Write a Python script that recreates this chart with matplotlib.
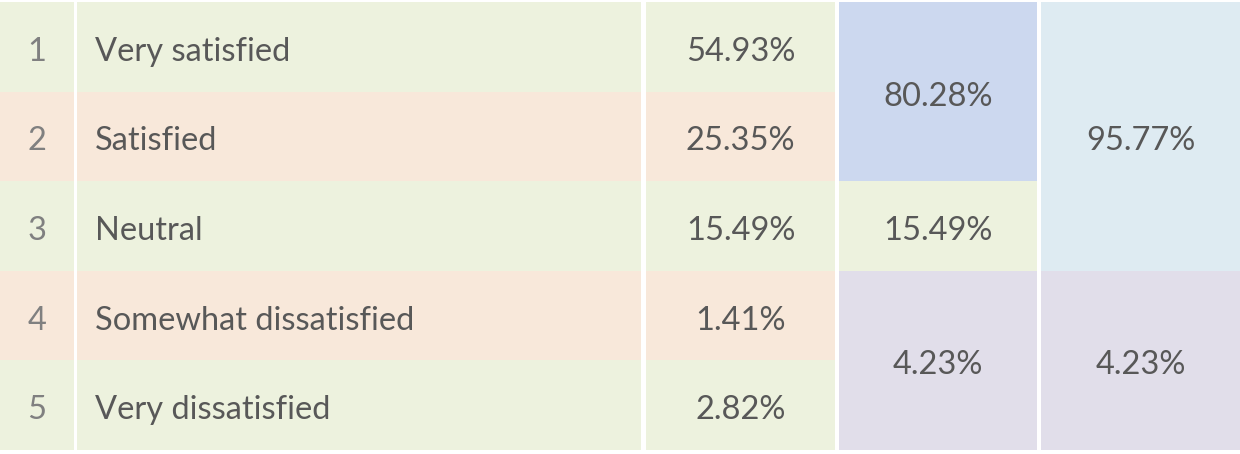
import matplotlib.pyplot as plt
from matplotlib.patches import Rectangle

# Survey results table
ranks = [1, 2, 3, 4, 5]
labels = ["Very satisfied", "Satisfied", "Neutral", "Somewhat dissatisfied", "Very dissatisfied"]
shares = [54.93, 25.35, 15.49, 1.41, 2.82]

# grouped columns: how many rows each cell spans, and its value
group4_spans = [2, 1, 2]
group4_values = [80.28, 15.49, 4.23]
group5_spans = [3, 2]
group5_values = [95.77, 4.23]

GREEN = "#edf2de"
PEACH = "#f8e8da"
BLUE = "#ccd8ef"
LIGHTBLUE = "#deebf2"
LAVENDER = "#e1deea"
row_colors = [GREEN, PEACH, GREEN, PEACH, GREEN]
group4_colors = [BLUE, GREEN, LAVENDER]
group5_colors = [LIGHTBLUE, LAVENDER]

TEXT = "#585858"
NUM_TEXT = "#808080"

W, H = 1240, 454
top, bottom = 2, 450
row_h = (bottom - top) / len(ranks)
# column x-ranges (pixels)
c_rank = (0, 77)
c_label = (77, 641)
c_share = (646, 835)
c_g4 = (839, 1037)
c_g5 = (1041, 1240)

plt.rcParams['font.family'] = ['Lato', 'DejaVu Sans']
fig = plt.figure(figsize=(W / 100, H / 100), dpi=100)
ax = fig.add_axes([0, 0, 1, 1])
ax.set_xlim(0, W)
ax.set_ylim(H, 0)
ax.axis("off")

FS = 23.5
dy = 5  # text sits a little below the cell centre


def cell(x0, x1, y0, y1, color):
    ax.add_patch(Rectangle((x0, y0), x1 - x0, y1 - y0, facecolor=color, edgecolor="none"))


for i, (r, lab, s) in enumerate(zip(ranks, labels, shares)):
    y0 = top + i * row_h
    y1 = y0 + row_h
    yc = (y0 + y1) / 2 + dy
    cell(c_rank[0], c_share[1], y0, y1, row_colors[i])
    ax.text(37, yc, str(r), ha="center", va="center", fontsize=FS, color=NUM_TEXT)
    ax.text(95, yc, lab, ha="left", va="center", fontsize=FS, color=TEXT)
    ax.text(sum(c_share) / 2, yc, f"{s:.2f}%", ha="center", va="center", fontsize=FS, color=TEXT)

# white gaps in the first three columns
ax.add_patch(Rectangle((74, top), 3, bottom - top, facecolor="white", edgecolor="none"))
ax.add_patch(Rectangle((c_label[1], 0), c_share[0] - c_label[1], H, facecolor="white", edgecolor="none"))


def group_column(cols, spans, values, colors):
    start = 0
    for n, v, c in zip(spans, values, colors):
        y0 = top + start * row_h
        y1 = y0 + n * row_h
        cell(cols[0], cols[1], y0, y1, c)
        ax.text(sum(cols) / 2, (y0 + y1) / 2 + dy, f"{v:.2f}%", ha="center", va="center",
                fontsize=FS, color=TEXT)
        start += n


group_column(c_g4, group4_spans, group4_values, group4_colors)
group_column(c_g5, group5_spans, group5_values, group5_colors)

fig.savefig("out.png", dpi=100, facecolor="white")
